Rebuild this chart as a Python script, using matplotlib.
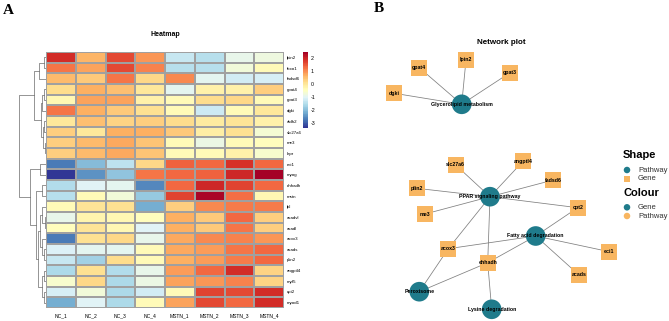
import numpy as np
import matplotlib
matplotlib.use('Agg')
import matplotlib.pyplot as plt

plt.rcParams['font.family'] = ['Liberation Sans', 'DejaVu Sans']
plt.rcParams['axes.unicode_minus'] = False

# ---------------- data ----------------
rows = ['lpin2', 'foxo1', 'fadsd6', 'gpat4', 'gpat3', 'dgki', 'aldh2', 'slc27a6', 'me3', 'lepr',
        'eci1', 'myog', 'ehhadh', 'mstn', 'lpl', 'acadvl', 'acadl', 'acox3', 'acads', 'plin2',
        'angptl4', 'myf5', 'cpt2', 'myod1']
cols = ['NC_1', 'NC_2', 'NC_3', 'NC_4', 'MSTN_1', 'MSTN_2', 'MSTN_3', 'MSTN_4']
values = [
    [1.9, 0.6, 1.6, 0.9, -1.3, -1.5, -0.9, -0.8],
    [1.2, 0.8, 1.6, 1.1, -1.5, -1.5, -0.7, -0.4],
    [0.55, 0.4, 1.2, 0.2, 1.0, -0.95, -1.2, -1.15],
    [0.15, 0.7, 0.5, 0.0, -0.95, -0.2, -0.2, 0.35],
    [-0.3, 0.8, 0.8, -0.2, -0.4, 0.15, 0.2, -0.35],
    [1.2, 0.7, 0.4, 0.1, -0.4, -1.25, -0.35, -0.05],
    [-0.05, 0.5, 0.25, 0.35, 0.15, -0.1, 0.05, -0.2],
    [0.3, -0.05, 0.7, 0.65, 0.4, -0.15, 0.1, -0.65],
    [0.35, 0.55, 0.75, 0.45, -0.35, -0.85, -0.35, -0.45],
    [0.35, 0.55, 0.75, 0.45, -0.35, -0.35, -0.2, -0.6],
    [-2.7, -2.0, -1.4, 0.2, 1.4, 1.35, 1.85, 1.3],
    [-3.38, -2.5, -1.9, 1.2, 1.3, 1.4, 1.95, 2.45],
    [-1.55, -1.0, -0.95, -2.6, 1.35, 1.95, 1.7, 1.3],
    [-1.5, -0.4, -0.7, -1.85, 1.7, 2.4, 1.25, -0.3],
    [-0.35, 0.05, 0.1, -2.2, 0.3, 1.0, 1.15, 1.15],
    [-0.9, -0.25, -0.3, -0.45, 0.7, 0.4, 1.3, 0.3],
    [-0.45, 0.05, -0.3, -1.0, 0.7, 0.4, 1.2, 0.35],
    [-2.7, 0.1, 0.2, -0.9, 0.75, 1.05, 1.1, 0.9],
    [-1.1, -0.95, -0.95, -0.4, 0.75, 0.85, 1.2, 1.3],
    [-1.3, -1.7, 0.15, -0.35, 0.7, 0.85, 1.15, 1.3],
    [-1.6, 0.1, -1.55, -0.9, 0.85, 1.35, 1.9, 0.25],
    [-0.6, 0.2, -1.6, -0.85, 0.8, 0.9, 1.1, 0.25],
    [-1.15, -0.75, -1.6, -1.2, -0.35, 1.65, 1.6, 1.9],
    [-2.2, -1.0, -1.6, -0.4, 0.8, 1.6, 1.3, 1.9],
]
value_min, value_max = -3.38, 2.46
cbar_ticks = [2, 1, 0, -1, -2, -3]

# row dendrogram: (left, right, merge height); leaves are row indices
dendro = (
    (((0, 1, 0.9), 2, 2.6),
     (((3, 4, 0.7), 5, 1.5), ((6, 7, 0.9), (8, 9, 0.5), 1.2), 2.0),
     4.4),
    ((10, 11, 2.2),
     ((12, 13, 1.3),
      (((14, (15, 16, 0.4), 1.6), (17, (18, 19, 0.7), 1.4), 2.4),
       ((20, 21, 0.8), (22, 23, 0.9), 1.5), 3.0),
      3.6),
     5.8),
    10.0)

# network
pathways = ['Glycerolipid metabolism', 'PPAR signaling pathway', 'Fatty acid degradation',
            'Peroxisome', 'Lysine degradation']
genes = ['gpat4', 'lpin2', 'gpat3', 'dgki', 'slc27a6', 'angptl4', 'fadsd6', 'plin2', 'me3',
         'cpt2', 'eci1', 'acads', 'acox3', 'ehhadh']
edges = [
    ('Glycerolipid metabolism', 'gpat4'), ('Glycerolipid metabolism', 'lpin2'),
    ('Glycerolipid metabolism', 'gpat3'), ('Glycerolipid metabolism', 'dgki'),
    ('PPAR signaling pathway', 'slc27a6'), ('PPAR signaling pathway', 'angptl4'),
    ('PPAR signaling pathway', 'fadsd6'), ('PPAR signaling pathway', 'plin2'),
    ('PPAR signaling pathway', 'me3'), ('PPAR signaling pathway', 'cpt2'),
    ('PPAR signaling pathway', 'acox3'), ('PPAR signaling pathway', 'ehhadh'),
    ('Fatty acid degradation', 'cpt2'), ('Fatty acid degradation', 'eci1'),
    ('Fatty acid degradation', 'acads'), ('Fatty acid degradation', 'acox3'),
    ('Fatty acid degradation', 'ehhadh'),
    ('Peroxisome', 'acox3'), ('Peroxisome', 'ehhadh'),
    ('Lysine degradation', 'ehhadh'),
]

# graph layout (layout units, y downward)
layout = {
    'Glycerolipid metabolism': (461.7, 104.3), 'gpat4': (419.3, 67.7), 'lpin2': (466.0, 60.0),
    'gpat3': (510.0, 72.7), 'dgki': (394.3, 93.3),
    'PPAR signaling pathway': (490.0, 196.7), 'slc27a6': (455.7, 165.0),
    'angptl4': (523.3, 161.0), 'fadsd6': (553.3, 180.0), 'plin2': (416.7, 188.3),
    'me3': (425.0, 214.0), 'cpt2': (577.7, 207.7),
    'Fatty acid degradation': (535.7, 236.0), 'eci1': (609.3, 251.7), 'acads': (579.0, 275.0),
    'acox3': (448.3, 248.7), 'ehhadh': (487.7, 262.7),
    'Peroxisome': (419.3, 291.7), 'Lysine degradation': (491.7, 309.3),
}

# ---------------- figure ----------------
W, H = 669, 321
fig = plt.figure(figsize=(W / 100, H / 100), dpi=100)


def px_rect(x0, y0, x1, y1):
    return [x0 / W, 1 - y1 / H, (x1 - x0) / W, (y1 - y0) / H]


TEAL = '#1f7b8b'
ORANGE = '#f8b661'

# background axes in pixel units for network + legend
axn = fig.add_axes([0, 0, 1, 1])
axn.set_xlim(0, W)
axn.set_ylim(H, 0)
axn.axis('off')
axn.patch.set_alpha(0)

for a, b in edges:
    (x0, y0), (x1, y1) = layout[a], layout[b]
    axn.plot([x0, x1], [y0, y1], color='#7f7f7f', lw=0.55, zorder=1)
for p in pathways:
    x, y = layout[p]
    axn.scatter([x], [y], s=200, marker='o', color=TEAL, edgecolor='none', zorder=2)
for g in genes:
    x, y = layout[g]
    axn.scatter([x], [y], s=130, marker='s', color=ORANGE, edgecolor='none', zorder=2)
for n in pathways + genes:
    x, y = layout[n]
    axn.text(x, y, n, fontsize=3.8, fontweight='bold', ha='center', va='center',
             color='black', zorder=3)

axn.text(501.5, 43, 'Network plot', fontsize=5.8, fontweight='bold', ha='center', va='center')

# legend
axn.text(623, 155, 'Shape', fontsize=8, fontweight='bold', ha='left', va='center')
axn.scatter([627], [170], s=22, marker='o', color=TEAL, edgecolor='none')
axn.text(638, 170, 'Pathway', fontsize=5.5, ha='left', va='center', color='#333333')
axn.scatter([627], [179], s=22, marker='s', color=ORANGE, edgecolor='none')
axn.text(638, 179, 'Gene', fontsize=5.5, ha='left', va='center', color='#333333')
axn.text(623, 192.5, 'Colour', fontsize=8, fontweight='bold', ha='left', va='center')
axn.scatter([627], [207.3], s=22, marker='o', color=TEAL, edgecolor='none')
axn.text(638, 207.3, 'Gene', fontsize=5.5, ha='left', va='center', color='#333333')
axn.scatter([627], [216], s=22, marker='o', color=ORANGE, edgecolor='none')
axn.text(638, 216, 'Pathway', fontsize=5.5, ha='left', va='center', color='#333333')

# panel letters
axn.text(8.5, 10, 'A', fontsize=11, fontweight='bold', family='Liberation Serif',
         ha='center', va='center')
axn.text(378.5, 9, 'B', fontsize=11, fontweight='bold', family='Liberation Serif',
         ha='center', va='center')
axn.text(165, 34, 'Heatmap', fontsize=5, fontweight='bold', ha='center', va='center')

# heatmap
data = np.array(values)
axh = fig.add_axes(px_rect(46, 52, 284, 308))
cmap = plt.get_cmap('RdYlBu_r', 100)
mesh = axh.pcolormesh(data, cmap=cmap, vmin=value_min, vmax=value_max,
                      edgecolors='#a0a0a0', linewidth=0.35)
axh.set_xlim(0, len(cols))
axh.set_ylim(len(rows), 0)
for s in axh.spines.values():
    s.set_visible(False)
axh.set_xticks(np.arange(len(cols)) + 0.5)
axh.set_xticklabels(cols, fontsize=3.6)
axh.set_yticks(np.arange(len(rows)) + 0.5)
axh.set_yticklabels(rows, fontsize=3.2)
axh.yaxis.tick_right()
axh.tick_params(length=0, pad=2)
axh.tick_params(axis='x', pad=4)

# colorbar
cax = fig.add_axes(px_rect(302.5, 52, 307.5, 128))
cb = fig.colorbar(mesh, cax=cax, ticks=cbar_ticks)
cb.outline.set_visible(False)
cb.ax.set_yticklabels([str(t) for t in cbar_ticks])
cb.ax.tick_params(labelsize=3.8, length=0, pad=2)

# dendrogram
axd = fig.add_axes(px_rect(19, 52, 46, 308))
axd.set_xlim(dendro[2], 0)
axd.set_ylim(len(rows), 0)
axd.axis('off')


def draw(node):
    if isinstance(node, int):
        return node + 0.5, 0.0
    l, r, h = node
    yl, hl = draw(l)
    yr, hr = draw(r)
    axd.plot([hl, h, h, hr], [yl, yl, yr, yr], color='#6a6a6a', lw=0.5)
    return (yl + yr) / 2, h


draw(dendro)

fig.savefig('out.png', dpi=100)
